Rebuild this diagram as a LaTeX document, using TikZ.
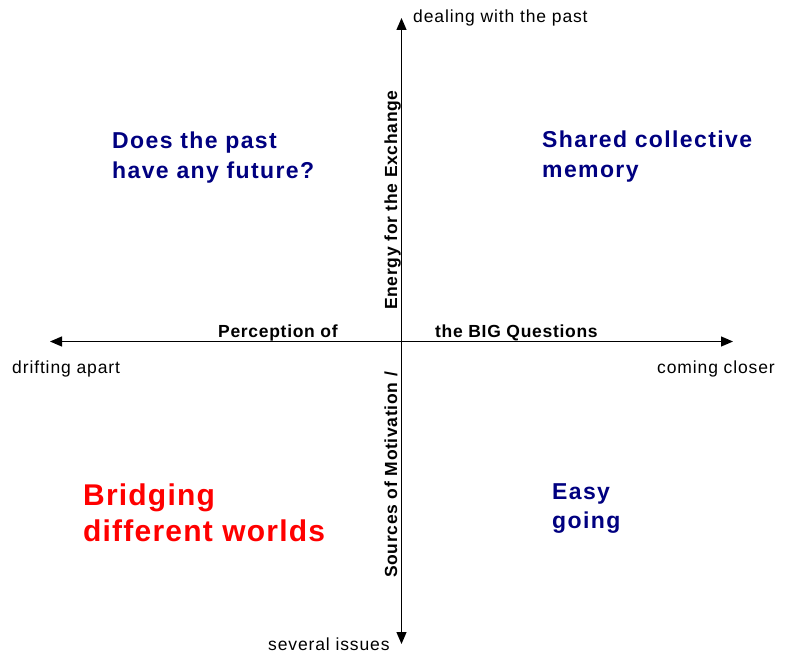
\documentclass[tikz,border=0pt]{standalone}
\usepackage{fontspec}
\setmainfont{Liberation Sans}
\newfontfamily\plainfont[LetterSpace=5]{Liberation Sans}
\newfontfamily\titlefont[LetterSpace=4]{Liberation Sans}
\newfontfamily\quadfont[LetterSpace=6]{Liberation Sans}
\newfontfamily\bigfont[LetterSpace=4]{Liberation Sans}
\usepackage{tikz}
\usetikzlibrary{positioning, arrows.meta}
\usepackage{xcolor}
\definecolor{quadblue}{RGB}{0,0,128}
\definecolor{quadred}{RGB}{255,0,0}

\tikzset{
  axis/.style={line width=1.2pt, {Triangle[length=12pt, width=10pt]}-{Triangle[length=12pt, width=10pt]}},
  endlabel/.style={anchor=base west, inner sep=0pt, font=\plainfont\fontsize{17.5}{20}\selectfont},
  axistitle/.style={anchor=base west, inner sep=0pt, font=\titlefont\bfseries\fontsize{17.5}{20}\selectfont},
  quadlabel/.style={anchor=base west, inner sep=0pt, align=left, color=quadblue, font=\quadfont\bfseries\fontsize{23}{29}\selectfont},
  biglabel/.style={anchor=base west, inner sep=0pt, align=left, color=quadred, font=\bigfont\bfseries\fontsize{30}{36}\selectfont}
}

\begin{document}
\begin{tikzpicture}[x=1pt, y=-1pt] % 1 unit = 1 pixel of the 791x655 frame

\useasboundingbox (0,0) rectangle (791,655);

% axis ends
\coordinate (top) at (401.5,18);
\coordinate (bottom) at (401.5,644);
\coordinate (left) at (50,341.5);
\coordinate (right) at (733,341.5);

\draw[axis] (bottom) -- (top);
\draw[axis] (left) -- (right);

\node[endlabel] (past) at (413,23) {dealing with the past};
\node[endlabel] (apart) at (12,373) {drifting apart};
\node[endlabel] (closer) at (657,373) {coming closer};
\node[endlabel] (issues) at (268,650) {several issues};

\node[axistitle] (percep) at (218,337) {Perception of};
\node[axistitle] (bigq) at (435,337) {the BIG Questions};
\node[axistitle, rotate=90] (energy) at (397,310) {Energy for the Exchange};
\node[axistitle, rotate=90] (sources) at (397,578) {Sources of Motivation /};

% base west of a two-line node sits on its last line
\node[quadlabel] (future) at (112,178) {Does the past\\have any future?};
\node[quadlabel] (memory) at (542,177) {Shared collective\\memory};
\node[quadlabel] (easy) at (552,528) {Easy\\going};
\node[biglabel] (worlds) at (83,541) {Bridging\\different worlds};

\end{tikzpicture}
\end{document}
